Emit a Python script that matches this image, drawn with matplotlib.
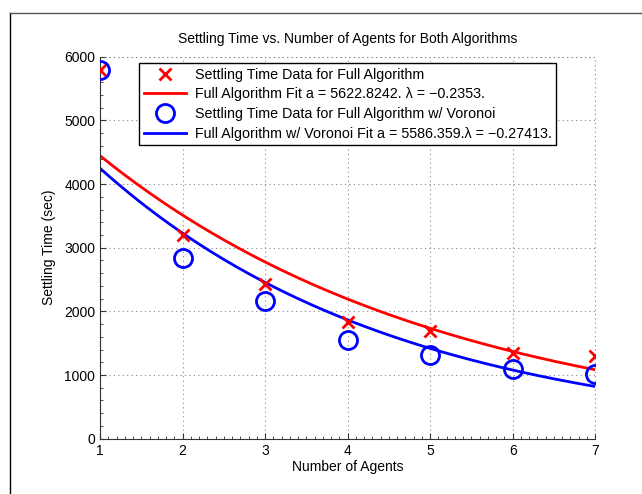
import numpy as np
import matplotlib
matplotlib.use("Agg")
import matplotlib.pyplot as plt
from matplotlib.lines import Line2D
from matplotlib.ticker import MultipleLocator

plt.rcParams['font.family'] = ['Liberation Sans', 'DejaVu Sans']

# data
agents = [1, 2, 3, 4, 5, 6, 7]
full_alg = [5800, 3200, 2428, 1837, 1691, 1341, 1303]
voronoi = [5790, 2842, 2162, 1549, 1314, 1094, 1011]

# fit parameters from legend: y = a*exp(lambda*x)
a_full, lam_full = 5622.8242, -0.2353
a_vor, lam_vor = 5586.359, -0.27413

x = np.linspace(1, 7, 200)

fig = plt.figure(figsize=(6.42, 4.94), dpi=100)
ax = fig.add_axes([0.156, 0.112, 0.771, 0.773])

ax.plot(agents, full_alg, 'x', color='red', ms=9, mew=2,
        label='Settling Time Data for Full Algorithm', zorder=4)
ax.plot(x, a_full*np.exp(lam_full*x), '-', color='red', lw=2,
        label='Full Algorithm Fit a = 5622.8242. \u03bb = \u22120.2353.')
ax.plot(agents, voronoi, 'o', mfc='none', mec='blue', ms=13, mew=2,
        label='Settling Time Data for Full Algorithm w/ Voronoi', zorder=4)
ax.plot(x, a_vor*np.exp(lam_vor*x), '-', color='blue', lw=2,
        label='Full Algorithm w/ Voronoi Fit a = 5586.359.\u03bb = \u22120.27413.')

grid_style = dict(linestyle=(0, (1, 3)), color='#888888', lw=0.8)

ax.set_xlim(1, 7)
ax.set_ylim(0, 6000)
ax.set_xticks(range(1, 8))
ax.set_yticks(range(0, 7000, 1000))
ax.xaxis.set_minor_locator(MultipleLocator(0.1))
ax.yaxis.set_minor_locator(MultipleLocator(200))
ax.tick_params(which='both', direction='in', labelsize=10, color='#333333')
ax.tick_params(which='major', length=4)
ax.tick_params(which='minor', length=2)
ax.grid(True, **grid_style)
for s in ['top', 'right']:
    ax.spines[s].set_visible(False)
for s in ['left', 'bottom']:
    ax.spines[s].set_color('#333333')
# dotted edges at top/right like matlab grid
ax.axhline(6000, clip_on=False, **grid_style)
ax.axvline(7, clip_on=False, **grid_style)

ax.set_title('Settling Time vs. Number of Agents for Both Algorithms', fontsize=10, pad=10)
ax.set_xlabel('Number of Agents', fontsize=10, labelpad=2)
ax.set_ylabel('Settling Time (sec)', fontsize=10, labelpad=6)

leg = ax.legend(loc='upper left', bbox_to_anchor=(0.079, 0.983), fontsize=10.3,
                frameon=True, fancybox=False, edgecolor='black', framealpha=1,
                handlelength=3.0, borderpad=0.3, labelspacing=0.4,
                handletextpad=0.6, borderaxespad=0)
leg.get_frame().set_linewidth(1.0)

# outer frame lines (left and top)
fig.add_artist(Line2D([10/642, 10/642], [0, 1-13/494], color='black', lw=1))
fig.add_artist(Line2D([10/642, 1], [1-13/494, 1-13/494], color='#555555', lw=1))

fig.savefig('out.png', dpi=100)
